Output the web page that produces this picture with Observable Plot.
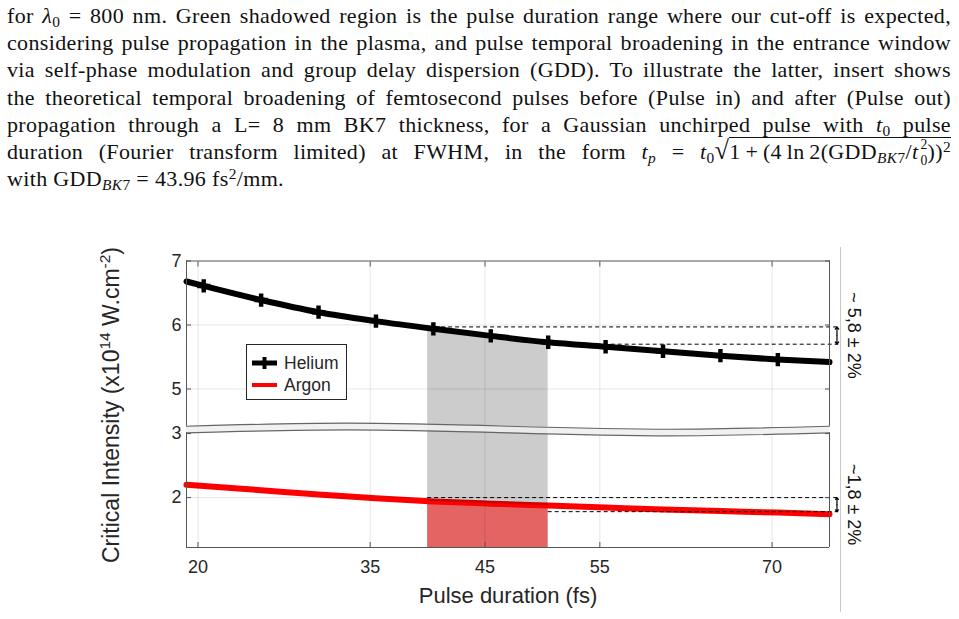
<!DOCTYPE html>
<html>
<head>
<meta charset="utf-8">
<script src="https://cdn.jsdelivr.net/npm/d3@7"></script>
<script src="https://cdn.jsdelivr.net/npm/@observablehq/plot@0.6"></script>
<style>
  html, body { margin: 0; padding: 0; background: #fff; }
  #page { position: relative; width: 959px; height: 619px; overflow: hidden; background: #fff; }
  #caption { position: absolute; left: 7px; top: 2px; width: 944px;
             font-family: "Liberation Serif", "DejaVu Serif", serif; font-size: 22px;
             letter-spacing: 0.35px; line-height: 27.2px; color: #111; }
  #caption .ln { text-align: justify; text-align-last: justify; white-space: normal; height: 27.2px; }
  #caption .ln.last { text-align-last: left; }
  #caption sub { font-size: 0.7em; vertical-align: -0.25em; line-height: 0; }
  #caption sup { font-size: 0.7em; vertical-align: 0.45em; line-height: 0; }
  #caption .ss { display: inline-block; font-size: 0.62em; line-height: 1.15em; vertical-align: -0.45em;
                 margin: -0.4em 0 -0.4em 0.15em; }
  #caption .ss span { display: block; }
  #caption .root { font-size: 1.2em; line-height: 0; }
  #caption .rad { border-top: 1px solid #111; padding-top: 1px; }
  #chart { position: absolute; left: 0; top: 200px; }
  #divider { position: absolute; left: 840px; top: 247px; width: 1px; height: 365px; background: #c8c8c8; }
</style>
</head>
<body>
<div id="page">
  <div id="caption">
    <div class="ln">for <i>λ</i><sub>0</sub> = 800 nm. Green shadowed region is the pulse duration range where our cut-off is expected,</div>
    <div class="ln">considering pulse propagation in the plasma, and pulse temporal broadening in the entrance window</div>
    <div class="ln">via self-phase modulation and group delay dispersion (GDD). To illustrate the latter, insert shows</div>
    <div class="ln">the theoretical temporal broadening of femtosecond pulses before (Pulse in) and after (Pulse out)</div>
    <div class="ln">propagation through a L= 8 mm BK7 thickness, for a Gaussian unchirped pulse with <i>t</i><sub>0</sub> pulse</div>
    <div class="ln">duration (Fourier transform limited) at FWHM, in the form <i>t<sub>p</sub></i> = <i>t</i><sub>0</sub><span class="root">√</span><span class="rad">1&thinsp;+&thinsp;(4&thinsp;ln&thinsp;2(GDD<sub><i>BK</i>7</sub>/<i>t</i><span class="ss"><span>2</span><span>0</span></span>))<sup>2</sup></span></div>
    <div class="ln last">with GDD<sub><i>BK</i>7</sub> = 43.96 fs<sup>2</sup>/mm.</div>
  </div>
  <div id="chart"></div>
  <div id="divider"></div>
</div>
<script>
// Pulse duration samples (fs) shared by both gases
const pulseDuration = [19, 20.5, 25.5, 30.5, 35.5, 40.5, 45.5, 50.5, 55.5, 60.5, 65.5, 70.5, 75];
// Critical intensity (x10^14 W/cm^2)
const helium = [6.68, 6.61, 6.39, 6.20, 6.06, 5.94, 5.83, 5.73, 5.66, 5.59, 5.52, 5.46, 5.42];
const argon  = [2.20, 2.18, 2.115, 2.05, 1.99, 1.94, 1.905, 1.875, 1.845, 1.815, 1.79, 1.765, 1.74];
// Helium points that carry a marker
const heliumMarked = [20.5, 25.5, 30.5, 35.5, 40.5, 45.5, 50.5, 55.5, 60.5, 65.5, 70.5];

// Pulse duration range where the cut-off is expected
const cutoffDuration = [40, 40.5, 45.5, 50.5];
const cutoffHelium   = [5.95, 5.94, 5.83, 5.73];
const cutoffArgon    = [1.945, 1.94, 1.905, 1.875];

// ±2% bands around ~5.8 (He) and ~1.8 (Ar)
const bandStart  = [40, 50.5];
const heliumBand = [5.97, 5.70];
const argonBand  = [2.00, 1.78];
const bandEnd = 75.8;
const bandArrowX = 75.65;
const bandLabels = ["~ 5,8 ± 2%", "~1,8 ± 2%"];

// Axes
const xDomain = [19, 75];
const yMin = 1.22, yMax = 7;
const xTicks = [20, 35, 45, 55, 70];
const yTicks = [7, 6, 5, 3, 2];
const yGrid = [6, 5, 2];

// Broken y axis: the empty stretch between the two panels is collapsed
const breakShift = 1.303;
const brk = v => (v > 3.5 ? v - breakShift : v);
const breakX     = [19, 33, 47, 61, 75];
const breakUpper = [4.418, 4.465, 4.418, 4.371, 4.418];
const breakLower = [3.012, 3.059, 3.012, 2.965, 3.012];

const rows = pulseDuration.map((x, i) => ({x, he: helium[i], ar: argon[i]}));
const cut = cutoffDuration.map((x, i) => ({x, he: cutoffHelium[i], ar: cutoffArgon[i]}));
const waves = breakX.map((x, i) => ({x, up: breakUpper[i], lo: breakLower[i]}));
const sides = [0, breakX.length - 1].map(i => ({x: breakX[i], up: breakUpper[i], lo: breakLower[i]}));
const bands = [heliumBand, argonBand].flatMap(b => b.map((v, i) => ({x1: bandStart[i], y: v})));
const arrows = [heliumBand, argonBand].flatMap(b => {
  const mid = (b[0] + b[1]) / 2;
  return [{from: mid, to: b[0]}, {from: mid, to: b[1]}];
});
const labels = [heliumBand, argonBand].map((b, i) => ({y: (b[0] + b[1]) / 2, text: bandLabels[i]}));
const yTickLabel = new Map(yTicks.map(v => [brk(v), String(v)]));

const ink = "#262626";
const frame = "#555";

const chart = Plot.plot({
  width: 959,
  height: 419,
  marginLeft: 186,
  marginRight: 130,
  marginTop: 60.5,
  marginBottom: 72,
  style: {fontFamily: "'Liberation Sans', Arial, sans-serif", background: "transparent", overflow: "visible"},
  x: {domain: xDomain},
  y: {domain: [yMin, brk(yMax)]},
  marks: [
    // cut-off range: red below the argon curve
    Plot.areaY(cut, {x: "x", y1: yMin, y2: d => brk(d.ar), fill: "#e46464", curve: "monotone-x"}),
    Plot.line(rows, {x: "x", y: d => brk(d.ar), stroke: "#ff0000", strokeWidth: 6, curve: "monotone-x"}),
    // cut-off range: grey between the curves
    Plot.areaY(cut, {x: "x", y1: d => brk(d.ar), y2: d => brk(d.he), fill: "#000", fillOpacity: 0.2, curve: "monotone-x"}),
    // grid
    Plot.ruleX(xTicks, {stroke: "#000", strokeOpacity: 0.1}),
    Plot.ruleY(yGrid.map(brk), {stroke: "#000", strokeOpacity: 0.1}),
    // axis break band
    Plot.areaY(waves, {x: "x", y1: d => brk(d.lo), y2: d => brk(d.up), fill: "#eeeeee", fillOpacity: 0.85, curve: "natural"}),
    Plot.line(waves, {x: "x", y: d => brk(d.up), stroke: "#666", strokeWidth: 1.2, curve: "natural"}),
    Plot.line(waves, {x: "x", y: d => brk(d.lo), stroke: "#666", strokeWidth: 1.2, curve: "natural"}),
    // helium
    Plot.line(rows, {x: "x", y: d => brk(d.he), stroke: "#000", strokeWidth: 6, curve: "monotone-x"}),
    Plot.dot(rows.filter(d => heliumMarked.includes(d.x)), {x: "x", y: d => brk(d.he), symbol: "cross", r: 5.6, fill: "#000", stroke: "none"}),
    // ±2% bands
    Plot.ruleY(bands, {y: d => brk(d.y), x1: "x1", x2: bandEnd, stroke: "#000", strokeWidth: 1, strokeDasharray: "4,3"}),
    Plot.arrow(arrows, {x1: bandArrowX, x2: bandArrowX, y1: d => brk(d.from), y2: d => brk(d.to), stroke: "#000", strokeWidth: 1.2, headLength: 8, headAngle: 75}),
    Plot.text(labels, {x: xDomain[1], y: d => brk(d.y), text: "text", dx: 24, rotate: 90,
                       textAnchor: "middle", lineAnchor: "middle", fontSize: 18, fill: "#111"}),
    // frame
    Plot.ruleY([brk(yMax), yMin], {stroke: frame, strokeWidth: 1}),
    Plot.ruleX(sides, {x: "x", y1: d => brk(d.up), y2: brk(yMax), stroke: frame, strokeWidth: 1}),
    Plot.ruleX(sides, {x: "x", y1: yMin, y2: d => brk(d.lo), stroke: frame, strokeWidth: 1}),
    // axes with inward ticks
    Plot.axisX(xTicks, {anchor: "bottom", tickSize: -5, tickPadding: 18, fontSize: 18, label: null, stroke: frame, fill: ink}),
    Plot.axisX(xTicks, {anchor: "top", tickSize: -5, tickFormat: () => "", label: null, stroke: frame}),
    Plot.axisY(yTicks.map(brk), {anchor: "left", tickSize: -5, tickPadding: 10, fontSize: 18, label: null,
                                 tickFormat: t => yTickLabel.get(t), stroke: frame, fill: ink}),
    Plot.axisY(yTicks.map(brk), {anchor: "right", tickSize: -5, tickFormat: () => "", label: null, stroke: frame}),
    Plot.text(["Pulse duration (fs)"], {frameAnchor: "bottom", dy: 48, lineAnchor: "middle", fontSize: 22, fill: ink})
  ]
});
document.getElementById("chart").appendChild(chart);

const svg = d3.select(chart);

// y-axis title with superscripts
const yt = svg.append("text")
  .attr("transform", "translate(119,205) rotate(-90)")
  .attr("text-anchor", "middle")
  .attr("font-size", 23)
  .attr("fill", ink);
yt.append("tspan").text("Critical Intensity (x10");
yt.append("tspan").attr("dy", -9).attr("font-size", 15.5).text("14");
yt.append("tspan").attr("dy", 9).text(" W.cm");
yt.append("tspan").attr("dy", -9).attr("font-size", 15.5).text("-2");
yt.append("tspan").attr("dy", 9).text(")");

// legend
const lg = svg.append("g").attr("font-size", 17.5).attr("fill", ink).attr("text-anchor", "start");
lg.append("rect").attr("x", 246.5).attr("y", 144.5).attr("width", 100).attr("height", 55)
  .attr("fill", "#fff").attr("stroke", ink).attr("stroke-width", 1);
lg.append("line").attr("x1", 252).attr("x2", 277).attr("y1", 163).attr("y2", 163)
  .attr("stroke", "#000").attr("stroke-width", 5);
lg.append("path").attr("transform", "translate(264.5,163)")
  .attr("d", d3.symbol(d3.symbolCross, Math.PI * 25)()).attr("fill", "#000");
lg.append("text").attr("x", 284).attr("y", 163).attr("dy", "0.35em").text("Helium");
lg.append("line").attr("x1", 252).attr("x2", 277).attr("y1", 185).attr("y2", 185)
  .attr("stroke", "#ff0000").attr("stroke-width", 4);
lg.append("text").attr("x", 284).attr("y", 185).attr("dy", "0.35em").text("Argon");
</script>
</body>
</html>
